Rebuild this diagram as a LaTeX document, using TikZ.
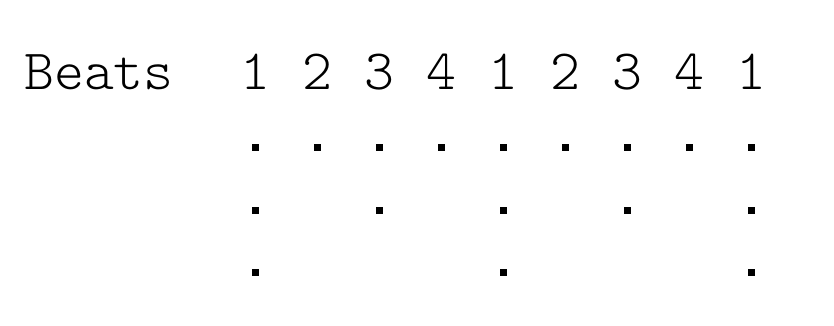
\documentclass[tikz,border=0pt]{standalone}
\usepackage{fontspec}
\setmonofont{Latin Modern Mono Light}
\usepackage{tikz}
\tikzset{
  grid/.style={x=1pt, y=1pt},
  blabel/.style={font=\ttfamily\fontsize{57}{64}\selectfont, inner sep=0pt, anchor=base},
  bdot/.style={rectangle, fill=black, inner sep=0pt, minimum size=7pt},
}
\newcommand{\beatdot}[3]{\node[bdot] (d#1-#2) at (255+62.1*#2-62.1, #3) {};}

\begin{document}
\begin{tikzpicture}[grid]
  \useasboundingbox (0,0) rectangle (834,326);
  % row heading
  \node[blabel, anchor=base west] (beats) at (24,236) {Beats};
  % beat numbers over the columns
  \foreach \c/\n in {1/1,2/2,3/3,4/4,5/1,6/2,7/3,8/4,9/1}
    \node[blabel] (n\c) at (255+62.1*\c-62.1, 236) {\n};
  % every beat
  \foreach \c in {1,...,9} {\beatdot{1}{\c}{178}}
  % beats 1 and 3
  \foreach \c in {1,3,5,7,9} {\beatdot{2}{\c}{115}}
  % downbeats only
  \foreach \c in {1,5,9} {\beatdot{3}{\c}{53}}
\end{tikzpicture}
\end{document}
